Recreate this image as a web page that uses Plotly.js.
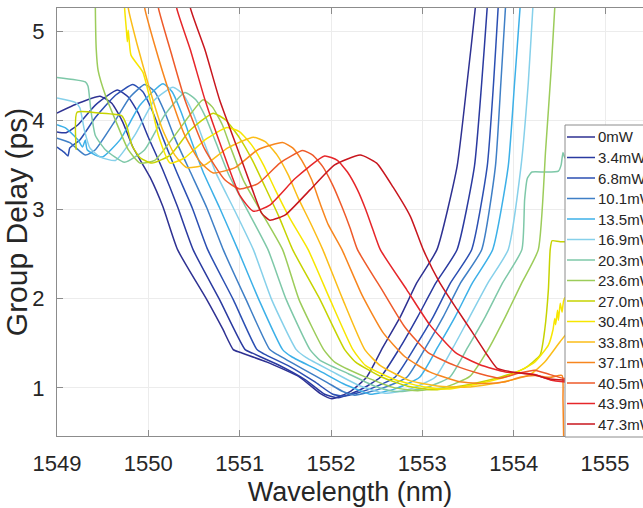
<!DOCTYPE html>
<html><head><meta charset="utf-8">
<script src="https://cdn.plot.ly/plotly-3.0.1.min.js"></script>
<style>html,body{margin:0;padding:0;background:#fff;overflow:hidden}#chart{width:643px;height:508px}</style>
</head><body><div id="chart"></div>
<script>
const seriesNames = ['0mW','3.4mW','6.8mW','10.1mW','13.5mW','16.9mW','20.3mW','23.6mW','27.0mW','30.4mW','33.8mW','37.1mW','40.5mW','43.9mW','47.3mW'];
const seriesColors = ['#2e3192','#2a3aa0','#2b4fb2','#3f7fc6','#3cb0e8','#86d0ea','#7ec8a8','#9ccc5a','#c6d300','#f7e600','#fbbd18','#f7861e','#ee5a2a','#e6262a','#c8161e'];
const xTicks = [1549,1550,1551,1552,1553,1554,1555];
const yTicks = [1,2,3,4,5];

const wl0 = [1549.00,1549.23,1549.47,1549.60,1549.72,1549.83,1550.02,1550.16,1550.32,1550.64,1550.81,1550.93,1551.00,1551.30,1551.66,1551.88,1552.01,1552.21,1552.39,1552.57,1552.76,1552.94,1553.16,1553.38,1553.49,1553.58,1553.60];
const gd0 = [4.08,4.19,4.27,4.19,3.98,3.70,3.36,3.03,2.55,1.99,1.67,1.43,1.40,1.29,1.12,0.94,0.88,0.96,1.12,1.46,1.80,2.18,2.55,3.48,4.42,5.26,5.57];
const wl1 = [1549.00,1549.10,1549.23,1549.42,1549.66,1549.78,1549.89,1550.00,1550.16,1550.32,1550.49,1550.78,1551.06,1551.14,1551.42,1551.72,1551.93,1552.08,1552.32,1552.54,1552.76,1552.95,1553.15,1553.38,1553.57,1553.65,1553.71,1553.73];
const gd1 = [3.87,3.86,3.95,4.17,4.34,4.26,4.08,3.81,3.44,3.03,2.55,1.99,1.43,1.39,1.26,1.09,0.93,0.89,0.98,1.12,1.46,1.80,2.18,2.55,3.48,4.42,5.26,5.57];
const wl2 = [1549.00,1549.08,1549.12,1549.14,1549.25,1549.42,1549.64,1549.83,1549.94,1550.05,1550.16,1550.31,1550.48,1550.65,1550.93,1551.19,1551.27,1551.55,1551.82,1552.02,1552.15,1552.43,1552.70,1552.92,1553.12,1553.31,1553.54,1553.71,1553.78,1553.83,1553.85];
const gd2 = [3.70,3.64,3.60,3.69,3.78,4.03,4.28,4.40,4.32,4.09,3.80,3.42,3.02,2.55,1.99,1.43,1.38,1.24,1.07,0.93,0.91,0.99,1.12,1.46,1.80,2.18,2.55,3.48,4.42,5.26,5.57];
const wl3 = [1549.00,1549.14,1549.31,1549.42,1549.64,1549.80,1549.96,1550.07,1550.18,1550.29,1550.46,1550.64,1550.82,1551.07,1551.33,1551.42,1551.68,1551.96,1552.13,1552.26,1552.54,1552.83,1553.04,1553.23,1553.42,1553.65,1553.80,1553.86,1553.91,1553.93];
const gd3 = [3.80,3.75,3.61,3.67,4.00,4.26,4.40,4.32,4.09,3.80,3.42,3.02,2.55,1.99,1.43,1.37,1.22,1.06,0.96,0.92,0.99,1.12,1.46,1.80,2.18,2.55,3.48,4.42,5.26,5.57];
const wl4 = [1549.00,1549.10,1549.23,1549.28,1549.31,1549.33,1549.42,1549.50,1549.69,1549.91,1550.16,1550.26,1550.36,1550.46,1550.60,1550.78,1550.98,1551.21,1551.47,1551.57,1551.86,1552.13,1552.32,1552.43,1552.70,1552.97,1553.17,1553.36,1553.55,1553.77,1553.94,1554.01,1554.07,1554.09];
const gd4 = [3.95,3.91,3.78,3.70,3.78,3.67,3.61,3.59,3.78,4.17,4.41,4.32,4.09,3.80,3.42,3.02,2.55,1.99,1.43,1.35,1.20,1.05,0.97,0.93,0.99,1.12,1.46,1.80,2.18,2.55,3.48,4.42,5.26,5.57];
const wl5 = [1549.00,1549.20,1549.25,1549.30,1549.36,1549.47,1549.64,1549.85,1550.07,1550.27,1550.38,1550.49,1550.60,1550.74,1550.93,1551.15,1551.35,1551.62,1551.73,1552.02,1552.30,1552.48,1552.59,1552.87,1553.14,1553.34,1553.52,1553.72,1553.94,1554.08,1554.16,1554.21,1554.23];
const gd5 = [4.25,4.20,4.14,3.89,3.69,3.59,3.55,3.83,4.23,4.37,4.29,4.08,3.78,3.41,3.02,2.55,1.99,1.43,1.34,1.18,1.03,0.97,0.94,0.99,1.12,1.46,1.80,2.18,2.55,3.48,4.42,5.26,5.57];
const wl6 = [1549.00,1549.31,1549.34,1549.37,1549.42,1549.53,1549.74,1549.96,1550.18,1550.40,1550.52,1550.63,1550.74,1550.88,1551.07,1551.31,1551.51,1551.77,1551.88,1552.19,1552.48,1552.65,1552.76,1553.03,1553.30,1553.50,1553.69,1553.88,1554.09,1554.12,1554.15,1554.20,1554.34,1554.49,1554.52,1554.54,1554.56,1554.62,1555.42];
const gd6 = [4.48,4.43,4.38,4.12,3.83,3.67,3.53,3.67,4.06,4.31,4.23,4.03,3.75,3.39,3.02,2.55,1.99,1.43,1.31,1.16,1.02,0.97,0.96,1.00,1.12,1.46,1.80,2.18,2.55,3.11,3.35,3.42,3.42,3.43,3.50,3.64,3.58,3.55,3.58];
const wl7 = [1549.42,1549.42,1549.43,1549.45,1549.53,1549.64,1549.78,1549.91,1550.07,1550.29,1550.60,1550.70,1550.81,1550.91,1551.04,1551.22,1551.47,1551.65,1551.92,1552.04,1552.36,1552.67,1552.84,1552.95,1553.25,1553.52,1553.72,1553.91,1554.09,1554.27,1554.35,1554.41,1554.45,1554.47];
const gd7 = [5.57,5.26,4.79,4.56,4.28,4.00,3.67,3.52,3.55,3.83,4.23,4.15,3.95,3.67,3.33,3.00,2.55,1.99,1.43,1.29,1.13,1.01,0.98,0.97,1.01,1.13,1.43,1.80,2.18,2.55,3.67,4.56,5.26,5.57];
const wl8 = [1549.21,1549.22,1549.47,1549.71,1549.76,1549.82,1549.91,1550.04,1550.24,1550.46,1550.71,1550.85,1551.00,1551.14,1551.28,1551.43,1551.58,1551.88,1552.15,1552.27,1552.56,1552.84,1553.03,1553.14,1553.52,1553.85,1554.12,1554.29,1554.34,1554.38,1554.40,1554.42,1554.51,1555.42];
const gd8 = [3.67,4.09,4.08,4.05,3.95,3.72,3.58,3.52,3.61,3.89,4.08,4.00,3.80,3.55,3.25,2.92,2.55,1.99,1.43,1.29,1.12,1.02,0.99,0.98,1.04,1.12,1.22,1.37,1.65,2.10,2.55,2.65,2.64,2.64];
const wl9 = [1549.74,1549.74,1549.76,1549.77,1549.78,1549.81,1549.94,1550.02,1550.11,1550.24,1550.40,1550.62,1550.86,1551.00,1551.14,1551.26,1551.39,1551.55,1551.75,1551.99,1552.24,1552.38,1552.71,1553.03,1553.19,1553.30,1553.63,1553.96,1554.23,1554.38,1554.43,1554.45,1554.46,1554.48,1554.49,1554.51,1554.53,1554.56,1555.42];
const gd9 = [5.57,5.26,5.01,4.88,5.01,4.73,4.54,4.23,3.83,3.52,3.58,3.78,3.92,3.87,3.71,3.50,3.22,2.90,2.55,1.99,1.43,1.25,1.09,1.01,0.99,0.99,1.05,1.14,1.29,1.48,1.65,1.78,1.71,1.87,1.76,1.95,1.85,2.01,2.04];
const wl10 = [1549.77,1549.78,1549.88,1550.00,1550.15,1550.29,1550.42,1550.62,1550.87,1551.15,1551.28,1551.41,1551.53,1551.64,1551.77,1551.91,1552.13,1552.37,1552.54,1552.87,1553.19,1553.39,1553.50,1553.85,1554.18,1554.34,1554.51,1554.67,1555.42];
const gd10 = [5.57,5.26,4.84,4.40,3.91,3.61,3.47,3.50,3.69,3.81,3.76,3.61,3.39,3.13,2.86,2.55,1.99,1.43,1.25,1.08,1.02,1.01,1.01,1.06,1.15,1.29,1.52,1.71,1.99];
const wl11 = [1549.94,1549.96,1550.07,1550.22,1550.40,1550.57,1550.71,1550.95,1551.20,1551.47,1551.58,1551.68,1551.79,1551.88,1551.97,1552.12,1552.34,1552.57,1552.81,1553.08,1553.41,1553.69,1553.91,1554.07,1554.23,1554.40,1554.53,1554.54,1554.55];
const gd11 = [5.57,5.26,4.84,4.34,3.83,3.53,3.41,3.47,3.67,3.75,3.69,3.55,3.33,3.07,2.83,2.55,2.04,1.62,1.35,1.18,1.07,1.05,1.07,1.12,1.14,1.12,1.14,0.87,0.30];
const wl12 = [1550.08,1550.11,1550.24,1550.40,1550.62,1550.84,1551.00,1551.20,1551.44,1551.69,1551.80,1551.91,1552.02,1552.12,1552.21,1552.29,1552.57,1552.81,1553.06,1553.36,1553.63,1553.85,1554.07,1554.23,1554.40,1554.54,1555.42];
const gd12 = [5.57,5.26,4.79,4.23,3.67,3.33,3.23,3.29,3.52,3.66,3.61,3.48,3.27,3.03,2.79,2.55,2.08,1.68,1.40,1.25,1.16,1.11,1.17,1.20,1.15,1.11,1.09];
const wl13 = [1550.29,1550.31,1550.46,1550.62,1550.81,1551.00,1551.15,1551.33,1551.61,1551.93,1552.07,1552.18,1552.29,1552.38,1552.46,1552.54,1552.83,1553.08,1553.36,1553.63,1553.91,1554.07,1554.23,1554.40,1554.54,1555.42];
const gd13 = [5.57,5.26,4.79,4.23,3.67,3.16,2.98,3.05,3.35,3.60,3.55,3.42,3.22,3.00,2.77,2.55,2.10,1.71,1.40,1.26,1.18,1.17,1.15,1.09,1.07,1.05];
const wl14 = [1550.43,1550.46,1550.62,1550.78,1550.98,1551.14,1551.24,1551.33,1551.50,1551.77,1552.04,1552.32,1552.50,1552.68,1552.87,1553.01,1553.19,1553.38,1553.55,1553.71,1553.82,1554.04,1554.21,1554.40,1554.54,1555.42];
const gd14 = [5.57,5.26,4.79,4.23,3.67,3.22,2.96,2.88,2.94,3.22,3.50,3.61,3.52,3.25,2.92,2.55,2.18,1.88,1.62,1.37,1.22,1.17,1.15,1.10,1.09,1.08];

const wls = [wl0,wl1,wl2,wl3,wl4,wl5,wl6,wl7,wl8,wl9,wl10,wl11,wl12,wl13,wl14];
const gds = [gd0,gd1,gd2,gd3,gd4,gd5,gd6,gd7,gd8,gd9,gd10,gd11,gd12,gd13,gd14];

const traces = seriesNames.map((n,i)=>({
  type:'scatter', mode:'lines', name:n, x:wls[i], y:gds[i],
  line:{color:seriesColors[i], width:1.5, shape:'spline', smoothing:0.5},
  showlegend:false
}));

// Legend box drawn in paper coordinates (plot area: 57..643 px wide, 8..436 px tall)
const W = 586, H = 428;
const px = v => (v-57)/W;
const py = v => (436-v)/H;
const axisCol = '#8c8c8c';
const shapes = [{type:'rect', xref:'paper', yref:'paper', x0:px(565), x1:px(660), y0:py(437), y1:py(125),
  line:{color:axisCol, width:1}, fillcolor:'#ffffff', layer:'above'}];
const annotations = [];
seriesNames.forEach((n,i)=>{
  const rowY = 137 + i*20.5;
  shapes.push({type:'line', xref:'paper', yref:'paper', x0:px(567), x1:px(595), y0:py(rowY), y1:py(rowY),
    line:{color:seriesColors[i], width:1.5}, layer:'above'});
  annotations.push({xref:'paper', yref:'paper', x:px(596), y:py(rowY), xanchor:'left', yanchor:'middle',
    text:n, showarrow:false, font:{size:15, color:'#262626'}});
});

const layout = {
  width:643, height:508,
  margin:{l:57, r:0, t:8, b:72, autoexpand:false},
  paper_bgcolor:'#ffffff', plot_bgcolor:'#ffffff',
  font:{family:'"Liberation Sans", Arial, sans-serif', color:'#262626'},
  showlegend:false,
  shapes:shapes, annotations:annotations,
  xaxis:{
    range:[1549,1555.416], tickvals:xTicks, ticktext:xTicks.map(String),
    ticks:'inside', ticklen:6, tickcolor:axisCol, tickwidth:1,
    showline:true, linecolor:axisCol, linewidth:1, mirror:'ticks',
    showgrid:true, gridcolor:'#ececec', gridwidth:1, zeroline:false,
    tickfont:{size:22, color:'#262626'}, ticklabelstandoff:8,
    title:{text:'Wavelength (nm)', font:{size:27, color:'#262626'}, standoff:6}
  },
  yaxis:{
    range:[0.462,5.258], tickvals:yTicks, ticktext:yTicks.map(String),
    ticks:'inside', ticklen:6, tickcolor:axisCol, tickwidth:1,
    showline:true, linecolor:axisCol, linewidth:1, mirror:false,
    showgrid:true, gridcolor:'#ececec', gridwidth:1, zeroline:false,
    tickfont:{size:22, color:'#262626'}, ticklabelstandoff:7,
    title:{text:'Group Delay (ps)', font:{size:30, color:'#262626'}, standoff:0}
  }
};
Plotly.newPlot('chart', traces, layout, {staticPlot:true, displayModeBar:false});
</script>
</body></html>
